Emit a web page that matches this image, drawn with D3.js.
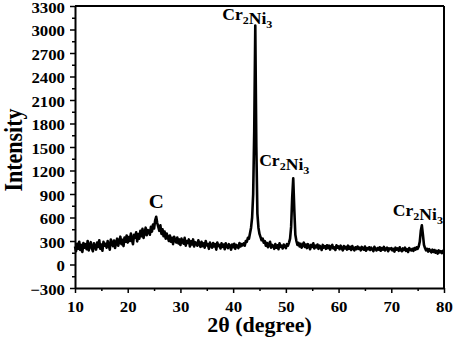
<!DOCTYPE html>
<html>
<head>
<meta charset="utf-8">
<script src="https://cdn.jsdelivr.net/npm/d3@7"></script>
<style>
  body { margin: 0; background: #fff; }
  text { font-family: "Liberation Serif", "Times New Roman", serif; font-weight: bold; fill: #000; }
</style>
</head>
<body>
<div id="chart"></div>
<script>
// 2θ grid: 10 to 80 in 0.2 degree steps
const thetaStart = 10, thetaStep = 0.2;
// intensity, 10 values per row = 2 degrees
const intensity = [
  230,170,265,200,290,185,250,160,275,215,
  260,195,300,180,245,285,205,170,270,230,
  190,280,225,310,200,255,175,290,240,265,
  215,300,250,190,320,270,235,305,210,285,
  330,240,300,355,260,315,235,345,290,370,
  280,350,300,395,315,260,380,340,410,295,
  390,330,430,360,455,340,400,470,375,440,
  430,380,480,420,510,460,560,610,530,480,
  430,500,390,450,360,420,330,395,350,300,
  370,290,340,260,355,310,280,345,270,320,
  250,330,290,265,340,240,300,275,320,230,
  295,255,320,230,285,270,240,310,260,225,
  290,235,270,215,300,245,260,200,280,240,
  215,275,230,260,190,280,235,250,205,270,
  225,255,195,270,230,210,260,240,190,255,
  220,265,200,250,235,210,275,230,260,245,
  270,240,300,290,340,330,400,470,600,900,
  1700,3050,1500,650,470,390,350,310,330,280,
  300,240,275,220,260,290,215,250,235,200,
  260,215,245,195,270,225,240,205,255,230,
  210,260,240,280,330,480,850,1100,700,380,
  300,250,275,230,265,215,250,280,225,255,
  210,260,235,195,250,225,270,205,240,220,
  255,200,240,225,185,250,215,235,200,245,
  210,240,190,230,250,205,220,185,245,215,
  230,195,240,210,180,235,205,225,190,240,
  200,225,185,235,205,180,220,195,230,200,
  215,180,225,200,190,230,175,210,195,220,
  185,215,195,170,225,200,180,210,190,220,
  175,210,190,225,180,200,215,170,205,195,
  210,180,200,165,215,190,205,175,220,185,
  170,205,185,215,175,195,160,210,190,180,
  200,175,210,190,220,200,230,290,430,500,
  380,250,210,180,200,165,195,175,155,190,
  160,185,150,175,140,180,155,170,145,175,
  160
];

const xTicks = [10, 20, 30, 40, 50, 60, 70, 80];
const xMinorTicks = [15, 25, 35, 45, 55, 65, 75];
const yTicks = [-300, 0, 300, 600, 900, 1200, 1500, 1800, 2100, 2400, 2700, 3000, 3300];
const yMinorTicks = [-150, 150, 450, 750, 1050, 1350, 1650, 1950, 2250, 2550, 2850, 3150];

// peak labels: phase name, peak position (2θ, intensity)
const peakNames = ["C", "Cr2Ni3", "Cr2Ni3", "Cr2Ni3"];
const peakTheta = [25.4, 44.2, 51.4, 75.8];
const peakHeight = [610, 3050, 1100, 500];

const W = 474, H = 357;
const margin = {top: 6, right: 30, bottom: 69, left: 75};
const width = W - margin.left - margin.right,
      height = H - margin.top - margin.bottom;

const data = intensity.map((v, i) => ({t: thetaStart + i * thetaStep, v: v}));

const svg = d3.select("#chart").append("svg")
    .attr("width", W).attr("height", H)
  .append("g")
    .attr("transform", "translate(" + margin.left + "," + margin.top + ")");

const x = d3.scaleLinear().domain([10, 80]).range([0, width]);
const y = d3.scaleLinear().domain([-300, 3300]).range([height, 0]);

// widen glyphs a bit, the source image is stretched horizontally
function stretch(sel, k) {
  sel.each(function() {
    const t = d3.select(this);
    const tx = +t.attr("x") || 0;
    t.attr("x", 0).attr("transform", "translate(" + tx + ",0) scale(" + k + ",1)");
  });
}

// minor ticks
svg.append("g")
    .attr("transform", "translate(0," + height + ")")
    .call(d3.axisBottom(x).tickValues(xMinorTicks).tickSize(3).tickFormat(""))
    .call(g => g.select(".domain").remove())
    .selectAll("line").attr("stroke-width", 1.5);
svg.append("g")
    .call(d3.axisLeft(y).tickValues(yMinorTicks).tickSize(3).tickFormat(""))
    .call(g => g.select(".domain").remove())
    .selectAll("line").attr("stroke-width", 1.5);

// x axis
const gx = svg.append("g")
    .attr("transform", "translate(0," + height + ")")
    .call(d3.axisBottom(x).tickValues(xTicks).tickSize(5).tickSizeOuter(0).tickPadding(8).tickFormat(d3.format("d")));
gx.select(".domain").attr("stroke-width", 2);
gx.selectAll("line").attr("stroke-width", 1.5);
gx.selectAll("text").style("font-size", "15px").call(stretch, 1.12);

// y axis
const gy = svg.append("g")
    .call(d3.axisLeft(y).tickValues(yTicks).tickSize(5).tickSizeOuter(0).tickPadding(5).tickFormat(d3.format("d")));
gy.select(".domain").attr("stroke-width", 2);
gy.selectAll("line").attr("stroke-width", 1.5);
gy.selectAll("text").style("font-size", "15px").attr("dy", "0.42em").call(stretch, 1.12);

// frame top and right
svg.append("line").attr("x1", 0).attr("x2", width).attr("y1", 0).attr("y2", 0)
    .attr("stroke", "#000").attr("stroke-width", 2);
svg.append("line").attr("x1", width).attr("x2", width).attr("y1", 0).attr("y2", height)
    .attr("stroke", "#000").attr("stroke-width", 2);

// pattern
svg.append("path")
    .datum(data)
    .attr("fill", "none")
    .attr("stroke", "#000")
    .attr("stroke-width", 2.6)
    .attr("stroke-linejoin", "round")
    .attr("d", d3.line().x(d => x(d.t)).y(d => y(d.v)));

// axis titles
svg.append("text")
    .attr("text-anchor", "middle")
    .attr("transform", "translate(" + (width / 2) + "," + (height + 44) + ") scale(1.1,1)")
    .style("font-size", "20px")
    .text("2θ (degree)");
svg.append("text")
    .attr("text-anchor", "middle")
    .attr("transform", "translate(" + (22 - margin.left) + "," + (150 - margin.top) + ") scale(1.15,1) rotate(-90)")
    .style("font-size", "22px")
    .text("Intensity");

// peak labels
const labelShift = [[0, -9], [-8, -6], [-9, -12], [-4, -9]];
peakNames.forEach((name, i) => {
  const t = svg.append("text")
      .attr("text-anchor", "middle")
      .attr("transform", "translate(" + (x(peakTheta[i]) + labelShift[i][0]) + "," +
            (y(peakHeight[i]) + labelShift[i][1]) + ") scale(1.1,1)")
      .style("font-size", name === "C" ? "19px" : "16px");
  // digits become subscripts
  name.split(/(\d)/).filter(s => s).forEach(part => {
    if (/\d/.test(part)) {
      t.append("tspan").attr("dy", 4).style("font-size", "11px").text(part);
      t.append("tspan").attr("dy", -4).text("");
    } else {
      t.append("tspan").text(part);
    }
  });
});
</script>
</body>
</html>
